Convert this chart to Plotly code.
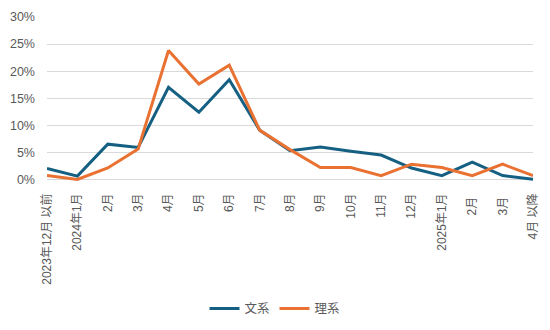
import plotly.graph_objects as go

# Month categories on the x axis
months = ["2023年12月 以前", "2024年1月", "2月", "3月", "4月", "5月", "6月", "7月",
          "8月", "9月", "10月", "11月", "12月", "2025年1月", "2月 ", "3月 ", "4月 以降"]

# Share of respondents per month (fraction)
bunkei = [0.020, 0.006, 0.065, 0.059, 0.170, 0.124, 0.184, 0.091,
          0.053, 0.060, 0.052, 0.045, 0.021, 0.007, 0.032, 0.007, 0.000]
rikei = [0.007, 0.000, 0.021, 0.056, 0.238, 0.176, 0.211, 0.091,
         0.055, 0.022, 0.022, 0.007, 0.028, 0.022, 0.007, 0.028, 0.007]

series_names = ["文系", "理系"]
colors = ["#156082", "#E97132"]

font_family = "Liberation Sans, Arial, Noto Sans CJK JP, sans-serif"

fig = go.Figure()
for name, vals, col in zip(series_names, [bunkei, rikei], colors):
    fig.add_trace(go.Scatter(
        x=months, y=vals, name=name, mode="lines",
        line=dict(color=col, width=3),
    ))

fig.update_layout(
    width=550, height=330,
    margin=dict(l=47, r=17, t=16.5, b=149, autoexpand=False),
    paper_bgcolor="white", plot_bgcolor="white",
    font=dict(family=font_family, size=12, color="#595959"),
    showlegend=True,
    legend=dict(orientation="h", xref="container", x=0.5, xanchor="center",
                y=-0.78, yanchor="middle",
                font=dict(size=12.5, color="#595959"), itemwidth=30,
                traceorder="normal"),
    hovermode=False,
)
fig.update_xaxes(
    type="category", tickangle=-90, showgrid=False, zeroline=False,
    showline=False, ticks="", automargin=False, ticklabelstandoff=9,
    tickfont=dict(size=12, color="#595959"),
)
fig.update_yaxes(
    range=[-0.003, 0.3], dtick=0.05, tick0=0, tickformat=".0%",
    showgrid=True, gridcolor="#D9D9D9", gridwidth=1, zeroline=False,
    showline=False, ticks="", automargin=False, ticklabelstandoff=11,
    tickfont=dict(size=12.5, color="#595959"),
)

fig.write_html("out.html")
